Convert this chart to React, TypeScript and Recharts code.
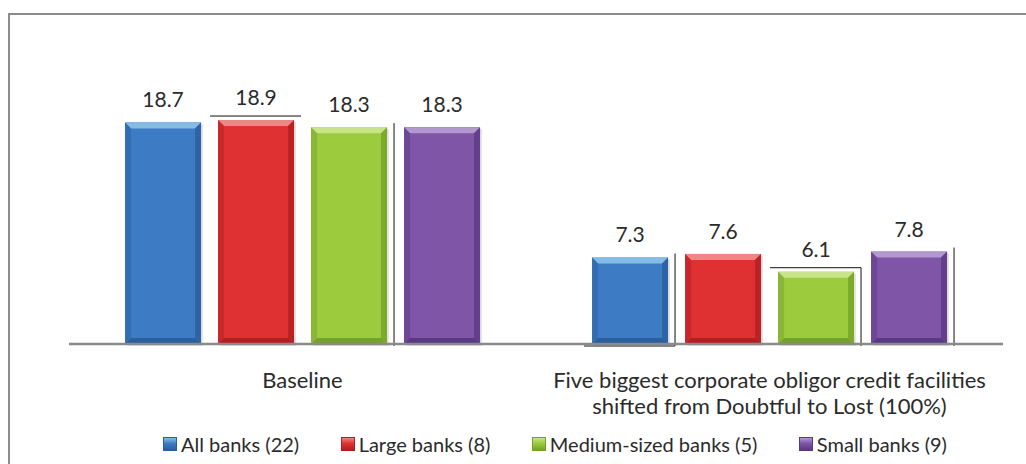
import { BarChart, Bar, XAxis, YAxis, LabelList } from "recharts";

const categories = ["Baseline", "Stress"];
const categoryLines = [
  ["Baseline"],
  ["Five biggest corporate obligor credit facilities", "shifted from Doubtful to Lost (100%)"],
];
const allBanks = [18.7, 7.3];
const largeBanks = [18.9, 7.6];
const mediumBanks = [18.3, 6.1];
const smallBanks = [18.3, 7.8];
// stray frame edges visible around some bars in the original
const allEdges = ["", "bottom right"];
const largeEdges = ["top", ""];
const mediumEdges = ["right", "top right"];
const smallEdges = ["", "right"];

const SERIES = [
  { key: "all", name: "All banks (22)", values: allBanks, edges: allEdges, base: "#3d7cc4", light: "#86bbe8", dark: "#2a5e9f" },
  { key: "large", name: "Large banks (8)", values: largeBanks, edges: largeEdges, base: "#e03132", light: "#ef8585", dark: "#b11f22" },
  { key: "medium", name: "Medium-sized banks (5)", values: mediumBanks, edges: mediumEdges, base: "#9ccb3e", light: "#c8e38a", dark: "#76a12a" },
  { key: "small", name: "Small banks (9)", values: smallBanks, edges: smallEdges, base: "#7e55a7", light: "#b198cf", dark: "#5b3886" },
];

const FONT = "Lato, 'Open Sans', sans-serif";

const data = categories.map((c, i) => {
  const row: Record<string, number | string> = { cat: c, idx: i };
  SERIES.forEach((s) => {
    row[s.key] = s.values[i];
  });
  return row;
});

function bevel(s: (typeof SERIES)[number]) {
  return (props: any) => {
    const { x, y, width: w, height: h, index } = props;
    const b = Math.min(6, w / 4, h / 4);
    const edges = s.edges[index] ?? "";
    const l = x - 8;
    const r = x + w + 7;
    const t = y - 4;
    const bot = y + h + 2;
    return (
      <g>
        <rect x={x + 2} y={y + 2} width={w} height={h} fill="#000" opacity={0.1} />
        <rect x={x} y={y} width={w} height={h} fill={s.base} />
        <polygon points={`${x},${y} ${x + w},${y} ${x + w - b},${y + b} ${x + b},${y + b}`} fill={s.light} />
        <polygon points={`${x},${y} ${x + b},${y + b} ${x + b},${y + h - b} ${x},${y + h}`} fill={s.dark} opacity={0.5} />
        <polygon points={`${x + w},${y} ${x + w - b},${y + b} ${x + w - b},${y + h - b} ${x + w},${y + h}`} fill={s.dark} opacity={0.8} />
        <polygon points={`${x},${y + h} ${x + b},${y + h - b} ${x + w - b},${y + h - b} ${x + w},${y + h}`} fill={s.dark} />
        {edges.includes("top") && <line x1={l} y1={t} x2={r} y2={t} stroke="#111" strokeWidth={1} />}
        {edges.includes("bottom") && <line x1={l} y1={bot} x2={r} y2={bot} stroke="#111" strokeWidth={1} />}
        {edges.includes("right") && <line x1={r} y1={t} x2={r} y2={bot} stroke="#111" strokeWidth={1} />}
      </g>
    );
  };
}

function ValueLabel(props: any) {
  const { x, y, width, value } = props;
  return (
    <text x={x + width / 2} y={y - 15} textAnchor="middle" fontSize={21} fontFamily={FONT} fill="#2b2b2b">
      {Number(value).toFixed(1)}
    </text>
  );
}

function CatTick(props: any) {
  const { x, y, payload } = props;
  const lines = categoryLines[categories.indexOf(payload.value)] ?? [payload.value];
  return (
    <text x={x} y={y} textAnchor="middle" fontSize={22} fontFamily={FONT} fill="#2b2b2b">
      {lines.map((l, i) => (
        <tspan key={i} x={x} dy={i === 0 ? 36 : 26}>
          {l}
        </tspan>
      ))}
    </text>
  );
}

export default function App() {
  return (
    <div style={{ position: "absolute", left: 0, top: 0, width: 1026, height: 464, background: "#fff", overflow: "hidden" }}>
      <div
        style={{
          position: "absolute",
          left: 8,
          top: 13,
          width: 1030,
          height: 470,
          borderTop: "2px solid #8c8c8c",
          borderLeft: "2px solid #8c8c8c",
        }}
      />
      <div style={{ position: "absolute", left: 0, top: 0 }}>
        <BarChart
          width={1026}
          height={464}
          data={data}
          margin={{ top: 107, right: 23, left: 69, bottom: 0 }}
          barCategoryGap="12%"
          barGap={17}
        >
          <XAxis
            dataKey="cat"
            height={120}
            tickLine={false}
            axisLine={{ stroke: "#8a8a8a", strokeWidth: 2.5 }}
            tick={<CatTick />}
            interval={0}
          />
          <YAxis hide domain={[0, 20]} />
          {SERIES.map((s) => (
            <Bar key={s.key} dataKey={s.key} name={s.name} shape={bevel(s)} isAnimationActive={false}>
              <LabelList dataKey={s.key} content={<ValueLabel />} />
            </Bar>
          ))}
        </BarChart>
      </div>
      <div
        style={{
          position: "absolute",
          left: 163,
          top: 432,
          width: 784,
          display: "flex",
          justifyContent: "space-between",
          fontFamily: FONT,
          fontSize: 20,
          color: "#2b2b2b",
          whiteSpace: "nowrap",
        }}
      >
        {SERIES.map((s) => (
          <div key={s.key} style={{ display: "flex", alignItems: "center", gap: 4 }}>
            <span
              style={{
                display: "inline-block",
                width: 14,
                height: 14,
                background: `linear-gradient(to bottom, ${s.light}, ${s.base} 45%, ${s.dark})`,
                border: `1px solid ${s.dark}`,
                boxSizing: "border-box",
              }}
            />
            <span>{s.name}</span>
          </div>
        ))}
      </div>
    </div>
  );
}
